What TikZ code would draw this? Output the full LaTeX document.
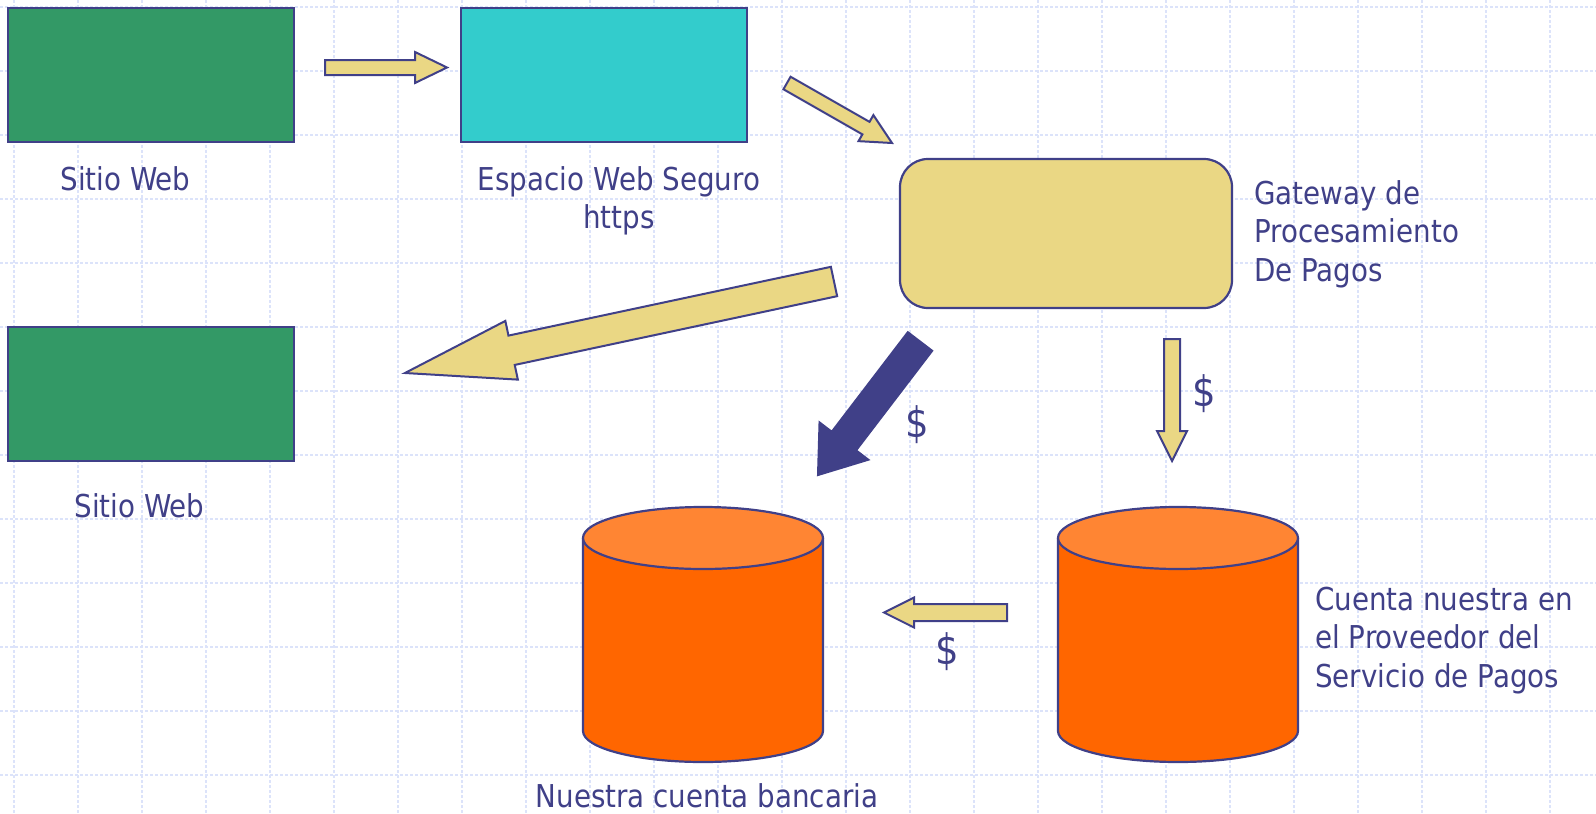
\documentclass[tikz,border=0pt]{standalone}
\usepackage{fontspec}
\setmainfont{DejaVu Sans}[FakeStretch=0.88]
\usetikzlibrary{calc}
\definecolor{ink}{HTML}{404088}
\definecolor{webgreen}{HTML}{339966}
\definecolor{webcyan}{HTML}{33CCCC}
\definecolor{sand}{HTML}{EAD784}
\definecolor{orangebody}{HTML}{FF6600}
\definecolor{orangetop}{HTML}{FF8533}
\definecolor{gridblue}{HTML}{DCE3FA}

% block arrow: [style]{tail}{tip}{shaft half width}{head half width}{head length}
\newcommand\blockarrow[6][]{%
  \coordinate (ba-c) at ($(#3)!#6!(#2)$);
  \draw[#1] ($(#2)!#4!90:(#3)$) -- ($(ba-c)!#4!90:(#3)$) -- ($(ba-c)!#5!90:(#3)$) -- (#3)
     -- ($(ba-c)!#5!-90:(#3)$) -- ($(ba-c)!#4!-90:(#3)$) -- ($(#2)!#4!-90:(#3)$) -- cycle;
}

\tikzset{
  gridline/.style={draw=gridblue, line width=1.1pt, dash pattern=on 3pt off 2pt},
  boxshape/.style={draw=ink, line width=2.2pt, inner sep=0pt, minimum width=286pt, minimum height=134pt},
  arrowshape/.style={draw=ink, line width=2pt, fill=sand, line join=miter},
  bluearrow/.style={draw=ink, line width=2pt, fill=ink, line join=miter},
  lbl/.style={text=ink, inner sep=0pt, font=\fontsize{31.5}{38.7}\selectfont},
  dollar/.style={text=ink, inner sep=0pt, font=\fontsize{42}{42}\selectfont},
  cylbody/.style={fill=orangebody},
  cyledge/.style={draw=ink, line width=2.2pt},
  cyltop/.style={fill=orangetop, draw=ink, line width=2.2pt}
}

\begin{document}
\begin{tikzpicture}[x=1pt, y=-1pt]
\useasboundingbox (0,0) rectangle (1596,814);
\fill[white] (0,0) rectangle (1596,814);

% background grid
\foreach \k in {0,...,24} \draw[gridline] ({14+64*\k},0) -- ({14+64*\k},814);
\foreach \k in {0,...,12} \draw[gridline] (0,{7+64*\k}) -- (1596,{7+64*\k});

% boxes
\node[boxshape, fill=webgreen] (web1) at (151,75) {};
\node[boxshape, fill=webcyan] (secure) at (604,75) {};
\node[boxshape, fill=webgreen] (web2) at (151,394) {};
\node[draw=ink, line width=2.2pt, fill=sand, rounded corners=28pt, inner sep=0pt,
      minimum width=332pt, minimum height=149pt] (gateway) at (1066,233.5) {};

% cylinders
\coordinate (bank) at (703,635);
\fill[cylbody] (583,538) -- (583,731) arc[start angle=180, end angle=360, x radius=120pt, y radius=31pt] -- (823,538) -- cycle;
\draw[cyledge] (583,538) -- (583,731) arc[start angle=180, end angle=360, x radius=120pt, y radius=31pt] -- (823,538);
\draw[cyltop] (703,538) ellipse[x radius=120pt, y radius=31pt];

\coordinate (psp) at (1178,635);
\fill[cylbody] (1058,538) -- (1058,731) arc[start angle=180, end angle=360, x radius=120pt, y radius=31pt] -- (1298,538) -- cycle;
\draw[cyledge] (1058,538) -- (1058,731) arc[start angle=180, end angle=360, x radius=120pt, y radius=31pt] -- (1298,538);
\draw[cyltop] (1178,538) ellipse[x radius=120pt, y radius=31pt];

% arrows
\coordinate (a1t) at (325,67.5);   \coordinate (a1h) at (447,67.5);
\coordinate (a2t) at (787,83);     \coordinate (a2h) at (892,143);
\coordinate (a3t) at (834,281.5);  \coordinate (a3h) at (405,373);
\coordinate (a4t) at (920,341.5);  \coordinate (a4h) at (818,475);
\coordinate (a5t) at (1172,339);   \coordinate (a5h) at (1172,461);
\coordinate (a6t) at (1007,612.5); \coordinate (a6h) at (884,612.5);
\blockarrow[arrowshape]{a1t}{a1h}{7.5pt}{15.5pt}{32pt}
\blockarrow[arrowshape]{a2t}{a2h}{7.2pt}{15pt}{30pt}
\blockarrow[arrowshape]{a3t}{a3h}{15pt}{30pt}{109pt}
\blockarrow[bluearrow]{a4t}{a4h}{15.3pt}{30.7pt}{42.7pt}
\blockarrow[arrowshape]{a5t}{a5h}{8pt}{15pt}{30pt}
\blockarrow[arrowshape]{a6t}{a6h}{8.5pt}{15pt}{30pt}

% labels (multi-line nodes are anchored at the baseline of their last line)
\node[lbl, anchor=base] (lbl-web1) at (125.5,190) {Sitio Web};
\node[lbl, anchor=base] (lbl-web2) at (139.5,517) {Sitio Web};
\node[lbl, anchor=base, align=center] (lbl-secure) at (619,228.7) {Espacio Web Seguro\\https};
\node[lbl, anchor=base west, align=left] (lbl-gw) at (1254,281.4) {Gateway de\\Procesamiento\\De Pagos};
\node[lbl, anchor=base west, align=left] (lbl-psp) at (1315,687.4) {Cuenta nuestra en\\el Proveedor del\\Servicio de Pagos};
\node[lbl, anchor=base] (lbl-bank) at (707,807) {Nuestra cuenta bancaria};

\node[dollar] (d1) at (917,425) {\$};
\node[dollar] (d2) at (1204,394) {\$};
\node[dollar] (d3) at (947,652) {\$};
\end{tikzpicture}
\end{document}
